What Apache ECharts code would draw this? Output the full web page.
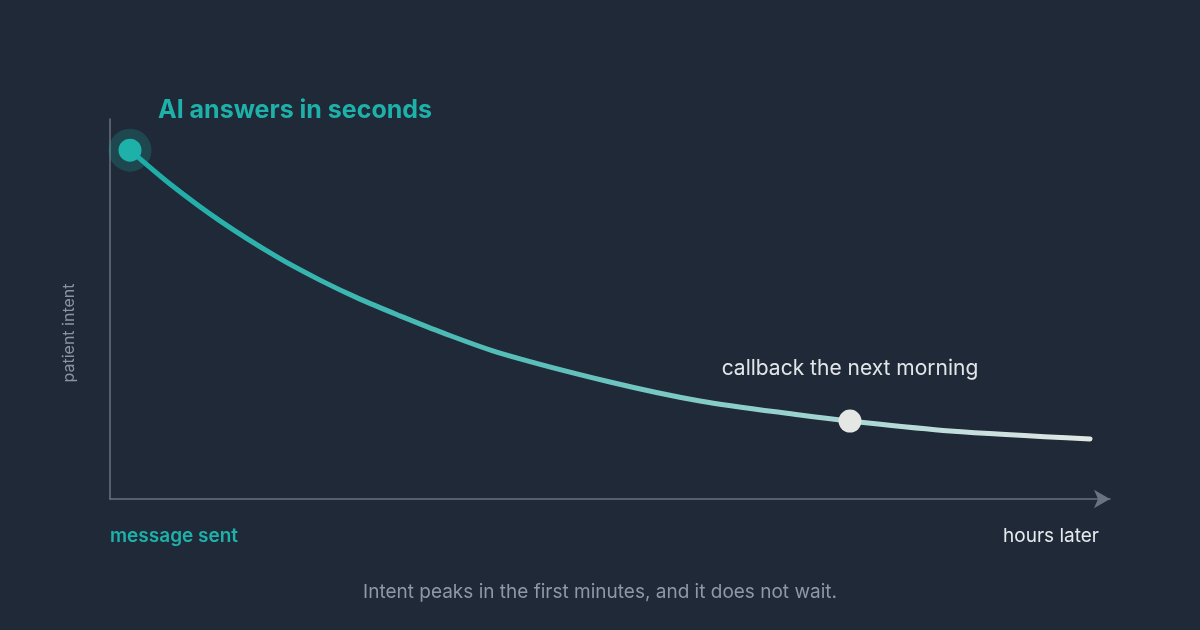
<!DOCTYPE html>
<html lang="en">
<head>
    <meta charset="UTF-8">
    <title>Patient intent decay</title>
    <script src="https://cdn.jsdelivr.net/npm/echarts@6/dist/echarts.min.js"></script>
    <style>
        html, body { margin: 0; padding: 0; background: #1f2937; }
        #main { width: 1200px; height: 630px; }
    </style>
</head>
<body>
<div id="main"></div>
<script type="text/javascript">
    // curve (x: time units 0-100, y: intent 0-100)
    var timeVals = [2, 6, 11, 16.7, 21, 25, 29, 33.3, 39, 50, 59, 69, 74, 84, 98];
    var intentVals = [91.8, 82.9, 73.2, 63.7, 57.6, 52.6, 48.2, 43.7, 38.4, 30.8, 25.8, 22.1, 20.5, 17.9, 15.8];
    // marked moments
    var startPoint = [2, 91.8];
    var callbackPoint = [74, 20.5];

    var teal = '#1db1aa';
    var curve = [];
    for (var i = 0; i < timeVals.length; i++) {
        curve.push([timeVals[i], intentVals[i]]);
    }

    var myChart = echarts.init(document.getElementById('main'));
    var option = {
        backgroundColor: '#1f2937',
        animation: false,
        grid: { left: 110, right: 90, top: 119, bottom: 131 },
        xAxis: {
            type: 'value', min: 0, max: 100,
            axisLine: {
                show: true,
                symbol: ['none', 'arrow'],
                symbolSize: [14, 16],
                lineStyle: { color: '#6b7280', width: 1.5 }
            },
            axisTick: { show: false },
            axisLabel: { show: false },
            splitLine: { show: false }
        },
        yAxis: {
            type: 'value', min: 0, max: 100,
            axisLine: { show: true, lineStyle: { color: '#6b7280', width: 1.5 } },
            axisTick: { show: false },
            axisLabel: { show: false },
            splitLine: { show: false }
        },
        series: [
            {
                type: 'line',
                data: curve,
                smooth: 0.3,
                showSymbol: false,
                lineStyle: {
                    width: 5,
                    cap: 'round',
                    color: new echarts.graphic.LinearGradient(0, 0, 1, 0, [
                        { offset: 0, color: '#1aaca6' },
                        { offset: 0.45, color: '#5fc0bb' },
                        { offset: 0.75, color: '#a9d7d4' },
                        { offset: 1, color: '#e4e8e4' }
                    ])
                },
                z: 2
            },
            {
                type: 'scatter',
                data: [startPoint],
                symbolSize: 43,
                itemStyle: { color: 'rgba(29,177,170,0.22)', opacity: 1 },
                z: 3
            },
            {
                type: 'scatter',
                data: [startPoint],
                symbolSize: 23,
                itemStyle: { color: teal, opacity: 1 },
                z: 4
            },
            {
                type: 'scatter',
                data: [callbackPoint],
                symbolSize: 23,
                itemStyle: { color: '#e4e7e3', opacity: 1 },
                label: {
                    show: true,
                    position: 'top',
                    distance: 30,
                    formatter: 'callback the next morning',
                    color: '#e2e6e9',
                    fontFamily: 'Inter',
                    fontSize: 21
                },
                z: 4
            }
        ],
        graphic: [
            {
                type: 'text', left: 158, top: 98,
                style: { text: 'AI answers in seconds', fill: teal, font: 'bold 25px Inter' }
            },
            {
                type: 'text', left: 110, top: 527,
                style: { text: 'message sent', fill: teal, font: '600 19px Inter' }
            },
            {
                type: 'text', right: 101, top: 527,
                style: { text: 'hours later', fill: '#e6eaed', font: '19px Inter' }
            },
            {
                type: 'text', x: 69, y: 333, rotation: Math.PI / 2,
                style: { text: 'patient intent', fill: '#8a939f', font: '16px Inter', align: 'center', verticalAlign: 'middle' }
            },
            {
                type: 'text', left: 'center', top: 583,
                style: { text: 'Intent peaks in the first minutes, and it does not wait.', fill: '#8f98a5', font: '19px Inter' }
            }
        ]
    };
    myChart.setOption(option);
</script>
</body>
</html>
